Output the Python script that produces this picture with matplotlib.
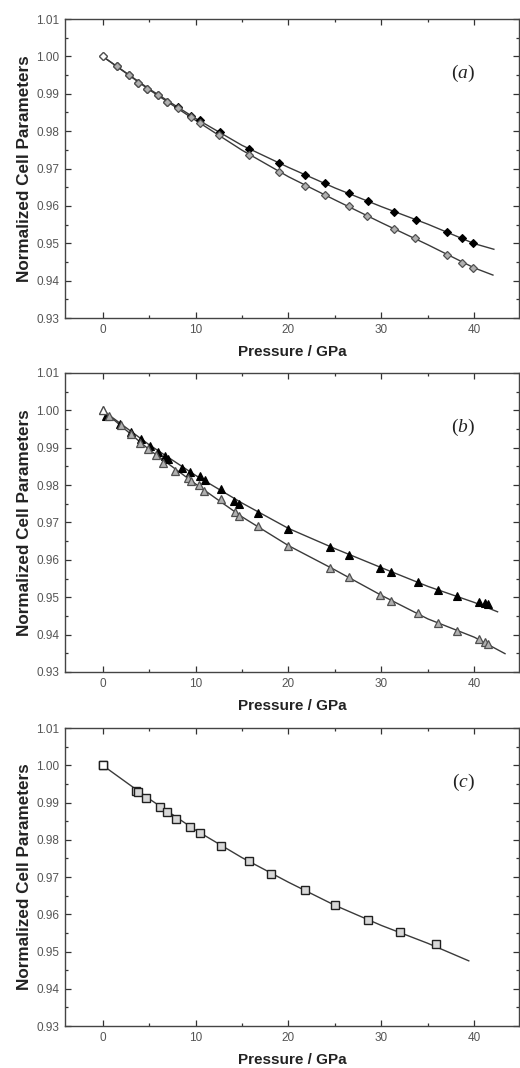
import matplotlib
matplotlib.use("Agg")
import matplotlib.pyplot as plt
from matplotlib.ticker import MultipleLocator, FormatStrFormatter

plt.rcParams['font.family'] = ['Liberation Sans', 'DejaVu Sans']
plt.rcParams['mathtext.fontset'] = 'custom'
plt.rcParams['mathtext.rm'] = 'Liberation Serif'
plt.rcParams['mathtext.it'] = 'Liberation Serif:italic'

# ---------------- Panel (a) ----------------
a_black_p = [1.5, 2.86, 3.8, 4.75, 5.96, 6.96, 8.14, 9.46, 10.43, 12.6, 15.8, 19.0, 21.8,
             23.9, 26.5, 28.6, 31.4, 33.7, 37.1, 38.7, 39.9]
a_black_v = [0.9975, 0.9950, 0.9929, 0.9914, 0.9896, 0.9879, 0.9864, 0.9840, 0.9829, 0.9799,
             0.9752, 0.9714, 0.9683, 0.9660, 0.9635, 0.9612, 0.9584, 0.9563, 0.9529, 0.9513, 0.9500]
a_gray_p = [0.0, 1.5, 2.86, 3.8, 4.75, 5.96, 6.96, 8.14, 9.46, 10.43, 12.57, 15.8, 19.0, 21.75,
            23.9, 26.5, 28.5, 31.4, 33.6, 37.1, 38.7, 39.9]
a_gray_v = [1.0000, 0.9975, 0.9950, 0.9929, 0.9914, 0.9896, 0.9879, 0.9863, 0.9838, 0.9823,
            0.9789, 0.9736, 0.9692, 0.9654, 0.9629, 0.9599, 0.9573, 0.9539, 0.9513, 0.9470,
            0.9448, 0.9435]
a_fit_black_p = [0, 5, 10, 15, 20, 25, 30, 35, 40, 42.1]
a_fit_black_v = [1.0, 0.9913, 0.9834, 0.9762, 0.9703, 0.9648, 0.9598, 0.9551, 0.9499, 0.9484]
a_fit_gray_p = [0, 5, 10, 15, 20, 25, 30, 35, 40, 42.0]
a_fit_gray_v = [1.0, 0.9911, 0.9829, 0.9749, 0.9678, 0.9616, 0.9555, 0.9496, 0.9434, 0.9415]

# ---------------- Panel (b) ----------------
b_black_p = [0.36, 1.86, 3.1, 4.18, 5.07, 5.96, 6.68, 7.04, 8.57, 9.43, 10.43, 11.0, 12.7,
             14.1, 14.7, 16.75, 20.0, 24.5, 26.5, 29.9, 31.0, 33.9, 36.1, 38.1, 40.5, 41.1, 41.5]
b_black_v = [0.9986, 0.9963, 0.9941, 0.9924, 0.9905, 0.9889, 0.9879, 0.9870, 0.9847, 0.9835,
             0.9823, 0.9814, 0.9790, 0.9757, 0.9749, 0.9725, 0.9683, 0.9635, 0.9613, 0.9579,
             0.9568, 0.9540, 0.9519, 0.9503, 0.9488, 0.9485, 0.9482]
b_gray_p = [0.0, 0.7, 1.93, 3.0, 4.0, 4.9, 5.7, 6.5, 7.75, 9.18, 9.46, 10.4, 10.86, 12.7,
            14.2, 14.7, 16.75, 20.0, 24.5, 26.5, 29.9, 31.0, 33.9, 36.1, 38.1, 40.5, 41.1, 41.5]
b_gray_v = [1.0000, 0.9984, 0.9962, 0.9937, 0.9912, 0.9897, 0.9881, 0.9859, 0.9838, 0.9819,
            0.9810, 0.9799, 0.9785, 0.9763, 0.9727, 0.9718, 0.9691, 0.9638, 0.9579, 0.9553,
            0.9506, 0.9490, 0.9457, 0.9430, 0.9410, 0.9387, 0.9381, 0.9374]
b_fit_black_p = [0, 5, 10, 15, 20, 25, 30, 35, 40, 42.5]
b_fit_black_v = [1.0, 0.9908, 0.9826, 0.9752, 0.9684, 0.9630, 0.9579, 0.9529, 0.9486, 0.9461]
b_fit_gray_p = [0, 5, 10, 15, 20, 25, 30, 35, 40, 43.3]
b_fit_gray_v = [1.0, 0.9895, 0.9803, 0.9715, 0.9638, 0.9573, 0.9505, 0.9442, 0.9393, 0.9349]

# ---------------- Panel (c) ----------------
c_p = [0.0, 3.57, 3.82, 4.71, 6.14, 6.93, 7.93, 9.43, 10.5, 12.7, 15.7, 18.1, 21.75, 25.0,
       28.6, 32.0, 35.9]
c_v = [1.0000, 0.9931, 0.9927, 0.9913, 0.9887, 0.9874, 0.9857, 0.9835, 0.9817, 0.9784,
       0.9744, 0.9709, 0.9664, 0.9624, 0.9586, 0.9552, 0.9519]
c_fit_p = [0, 5, 10, 15, 20, 25, 30, 35, 39.4]
c_fit_v = [1.0, 0.9910, 0.9826, 0.9752, 0.9686, 0.9624, 0.9570, 0.9522, 0.9475]

x_ticks = [0, 10, 20, 30, 40]
panel_labels = ['a', 'b', 'c']

fig = plt.figure(figsize=(5.2, 10.68), dpi=100)
positions = [
    [0.125, 0.7022, 0.873, 0.2800],
    [0.125, 0.3708, 0.873, 0.2800],
    [0.125, 0.0393, 0.873, 0.2790],
]
axes = [fig.add_axes(p) for p in positions]

line_kw = dict(color='#3a3a3a', lw=1.0, zorder=2)
gray_face = '#b0b0b0'
gray_edge = '#505050'

ax = axes[0]
ax.plot(a_fit_black_p, a_fit_black_v, **line_kw)
ax.plot(a_fit_gray_p, a_fit_gray_v, **line_kw)
ax.plot(a_black_p, a_black_v, ls='none', marker='D', ms=4.5, mfc='black', mec='black', mew=0.8, zorder=3)
ax.plot(a_gray_p, a_gray_v, ls='none', marker='D', ms=4.5, mfc=gray_face, mec=gray_edge, mew=0.9, zorder=4)
ax.plot([0], [1.0], ls='none', marker='D', ms=4.5, mfc='white', mec=gray_edge, mew=0.9, zorder=5)

ax = axes[1]
ax.plot(b_fit_black_p, b_fit_black_v, **line_kw)
ax.plot(b_fit_gray_p, b_fit_gray_v, **line_kw)
ax.plot(b_black_p, b_black_v, ls='none', marker='^', ms=5.2, mfc='black', mec='black', mew=0.8, zorder=3)
ax.plot(b_gray_p, b_gray_v, ls='none', marker='^', ms=5.2, mfc=gray_face, mec=gray_edge, mew=0.9, zorder=4)
ax.plot([0], [1.0], ls='none', marker='^', ms=5.2, mfc='white', mec=gray_edge, mew=0.9, zorder=5)

ax = axes[2]
ax.plot(c_fit_p, c_fit_v, **line_kw)
ax.plot(c_p, c_v, ls='none', marker='s', ms=5.6, mfc='#d8d8d8', mec='#202020', mew=1.0, zorder=3)
ax.plot([0], [1.0], ls='none', marker='s', ms=5.6, mfc='white', mec='#202020', mew=1.0, zorder=5)

for ax, lab in zip(axes, panel_labels):
    ax.set_xlim(-4.05, 44.8)
    ax.set_ylim(0.93, 1.01)
    ax.set_xticks(x_ticks)
    ax.xaxis.set_minor_locator(MultipleLocator(5))
    ax.yaxis.set_major_locator(MultipleLocator(0.01))
    ax.yaxis.set_minor_locator(MultipleLocator(0.005))
    ax.yaxis.set_major_formatter(FormatStrFormatter('%.2f'))
    ax.tick_params(which='both', direction='in', top=True, right=True,
                   colors='#333333', labelcolor='#555555', labelsize=8.5, width=0.9)
    ax.tick_params(which='major', length=4.5, pad=4)
    ax.tick_params(which='minor', length=2.5)
    for s in ax.spines.values():
        s.set_color('#444444')
        s.set_linewidth(1.0)
    ax.set_xlabel('Pressure / GPa', fontsize=11, fontweight='bold', color='#222222', labelpad=7)
    ax.set_ylabel('Normalized Cell Parameters', fontsize=12.3, fontweight='bold', color='#222222', labelpad=3)
    ax.text(38.8, 0.9954, r'$(\mathit{' + lab + r'})$', fontsize=14, ha='center', va='center', color='#222222')

fig.savefig('out.png', dpi=100)
